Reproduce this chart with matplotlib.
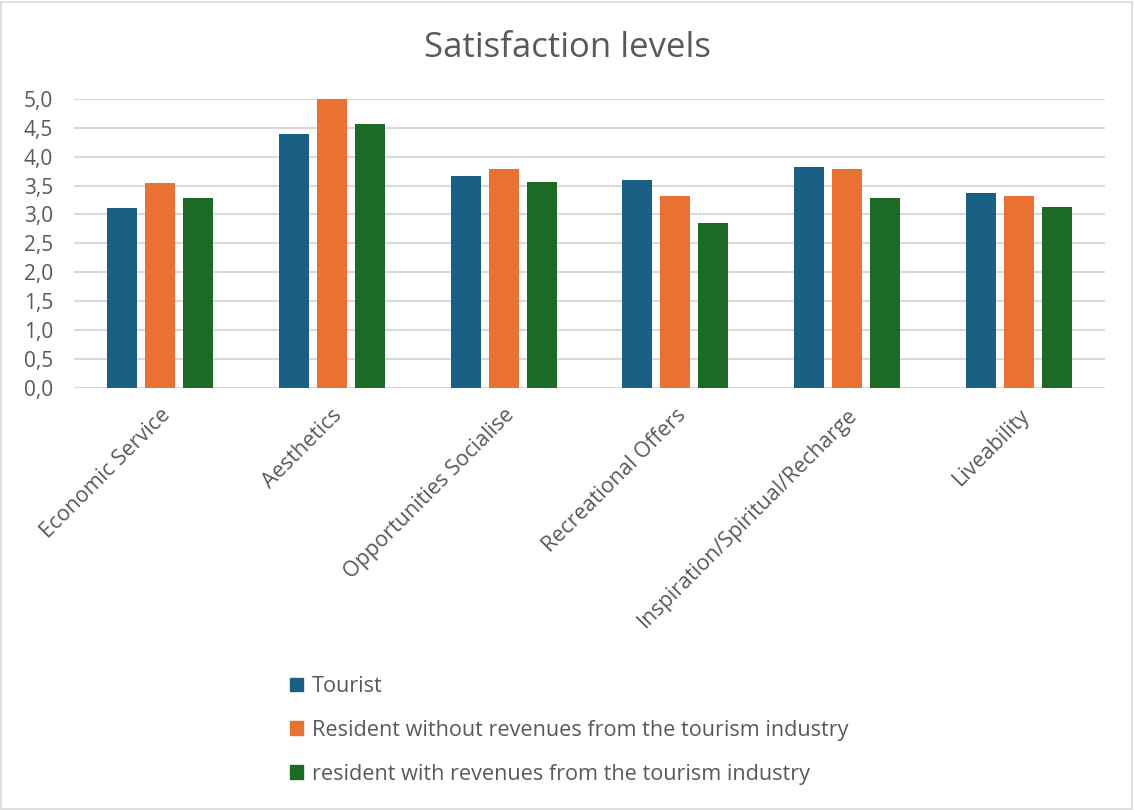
import numpy as np
import matplotlib.pyplot as plt
from matplotlib.ticker import FuncFormatter
from matplotlib.patches import Rectangle

plt.rcParams['font.family'] = ['Open Sans', 'DejaVu Sans']

categories = ["Economic Service", "Aesthetics", "Opportunities Socialise",
              "Recreational Offers", "Inspiration/Spiritual/Recharge", "Liveability"]
series_names = ["Tourist",
                "Resident without revenues from the tourism industry",
                "resident with revenues from the tourism industry"]
tourist = [3.11, 4.39, 3.67, 3.60, 3.82, 3.37]
resident_without = [3.55, 5.00, 3.78, 3.32, 3.78, 3.32]
resident_with = [3.29, 4.57, 3.56, 2.85, 3.29, 3.13]
colors = ["#196084", "#e97132", "#1b6b24"]

text_col = "#595959"

fig = plt.figure(figsize=(11.34, 8.1), dpi=100)
ax = fig.add_axes([0.0653, 0.521, 0.9091, 0.357])

x = np.arange(len(categories))
width = 0.175
offset = 0.221
for i, vals in enumerate([tourist, resident_without, resident_with]):
    ax.bar(x + (i - 1) * offset, vals, width, color=colors[i], label=series_names[i], zorder=3)

ax.set_xlim(-0.5, len(categories) - 0.5)
ax.set_ylim(0, 5)
ax.set_yticks(np.arange(0, 5.01, 0.5))
ax.yaxis.set_major_formatter(FuncFormatter(lambda v, p: f"{v:.1f}".replace(".", ",")))
ax.grid(axis="y", color="#d9d9d9", linewidth=1.5, zorder=0)
for s in ax.spines.values():
    s.set_visible(False)
ax.tick_params(axis="both", length=0, colors=text_col)
ax.tick_params(axis="y", pad=15, labelsize=15)
ax.tick_params(axis="x", pad=12)
ax.set_xticks(x)
ax.set_xticklabels(categories, rotation=45, ha="right", rotation_mode="anchor", fontsize=15.5)

fig.suptitle("Satisfaction levels", y=0.962, fontsize=25, color=text_col)

handles = [Rectangle((0, 0), 1, 1, color=c) for c in colors]
leg = fig.legend(handles, series_names, loc="upper left", bbox_to_anchor=(0.248, 0.176),
                 frameon=False, fontsize=15.6, labelspacing=1.05, handlelength=0.6,
                 handleheight=0.6, handletextpad=0.4, borderaxespad=0)
for t in leg.get_texts():
    t.set_color(text_col)

fig.patches.append(Rectangle((0.001, 0.001), 0.997, 0.997, transform=fig.transFigure,
                             fill=False, edgecolor="#d9d9d9", linewidth=1.2))

fig.savefig("out.png", dpi=100)
